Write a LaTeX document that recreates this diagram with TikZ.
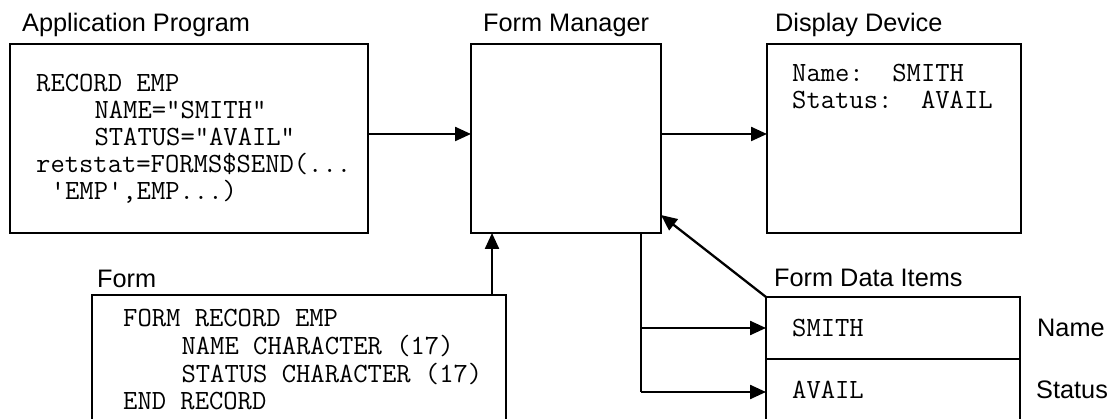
\documentclass[tikz,border=0pt]{standalone}
\usepackage{fontspec}
\setsansfont{Liberation Sans}
\usetikzlibrary{arrows.meta}
\begin{document}
\begin{tikzpicture}[x=1pt,y=-1pt,
  box/.style={draw, line width=2.3pt, inner sep=0pt, outer sep=0pt, anchor=north west},
  arr/.style={line width=2.3pt, -{Triangle[length=16pt,width=14pt]}},
  lab/.style={anchor=base west, inner sep=0pt, font=\sffamily\fontsize{25.3}{29}\selectfont},
  code/.style={anchor=base west, inner sep=0pt, font=\ttfamily\fontsize{27.8}{30}\selectfont}]
\useasboundingbox[fill=white] (0,0) rectangle (1109,419);
\clip (0,0) rectangle (1109,419);
% boxes
\node[box, minimum width=358pt, minimum height=189pt] (app) at (10,44) {};
\node[box, minimum width=190pt, minimum height=189pt] (fm) at (471,44) {};
\node[box, minimum width=254pt, minimum height=189pt] (disp) at (767,44) {};
\node[box, minimum width=414pt, minimum height=160pt] (form) at (92,295) {};
\node[box, minimum width=254pt, minimum height=62pt] (fdi1) at (766,297) {};
\node[box, minimum width=254pt, minimum height=66pt] (fdi2) at (766,359) {};
% labels
\node[lab] (lapp) at (22,32) {Application Program};
\node[lab] (lfm) at (483,32) {Form Manager};
\node[lab] (ldisp) at (775,32) {Display Device};
\node[lab] (lform) at (97,288) {Form};
\node[lab] (lfdi) at (774,287) {Form Data Items};
\node[lab] (lname) at (1037,337) {Name};
\node[lab] (lstatus) at (1036,399) {Status};
% application program code
\node[code] (a1) at (36,92) {RECORD EMP};
\node[code] (a2) at (94.4,119) {NAME="SMITH"};
\node[code] (a3) at (94.4,146) {STATUS="AVAIL"};
\node[code] (a4) at (36,173) {retstat=FORMS\$SEND(...};
\node[code] (a5) at (50.6,200) {'EMP',EMP...)};
% form code
\node[code] (f1) at (123,327) {FORM RECORD EMP};
\node[code] (f2) at (181.4,355) {NAME CHARACTER (17)};
\node[code] (f3) at (181.4,383) {STATUS CHARACTER (17)};
\node[code] (f4) at (123,410) {END RECORD};
% display
\node[code] (d1) at (792,82) {Name:~~SMITH};
\node[code] (d2) at (792,109) {Status:~~AVAIL};
% form data items
\node[code] (i1) at (792,337) {SMITH};
\node[code] (i2) at (792,399) {AVAIL};
% connectors
\draw[arr] ([yshift=4.5pt]app.east) -- ([yshift=4.5pt]fm.west);
\draw[arr] ([yshift=4.5pt]fm.east) -- ([yshift=4.5pt]disp.west);
\draw[arr] ([xshift=-14pt]form.north east) -- ([xshift=-14pt]form.north east |- fm.south);
\draw[arr] (fdi1.north west) -- ([yshift=18pt]fm.south east);
\coordinate (split) at ([xshift=-20pt]fm.south east);
\draw[line width=2.3pt] (split) -- (split |- fdi2.west);
\draw[arr] (split |- fdi1.west) -- (fdi1.west);
\draw[arr] (split |- fdi2.west) -- (fdi2.west);
\end{tikzpicture}
\end{document}
